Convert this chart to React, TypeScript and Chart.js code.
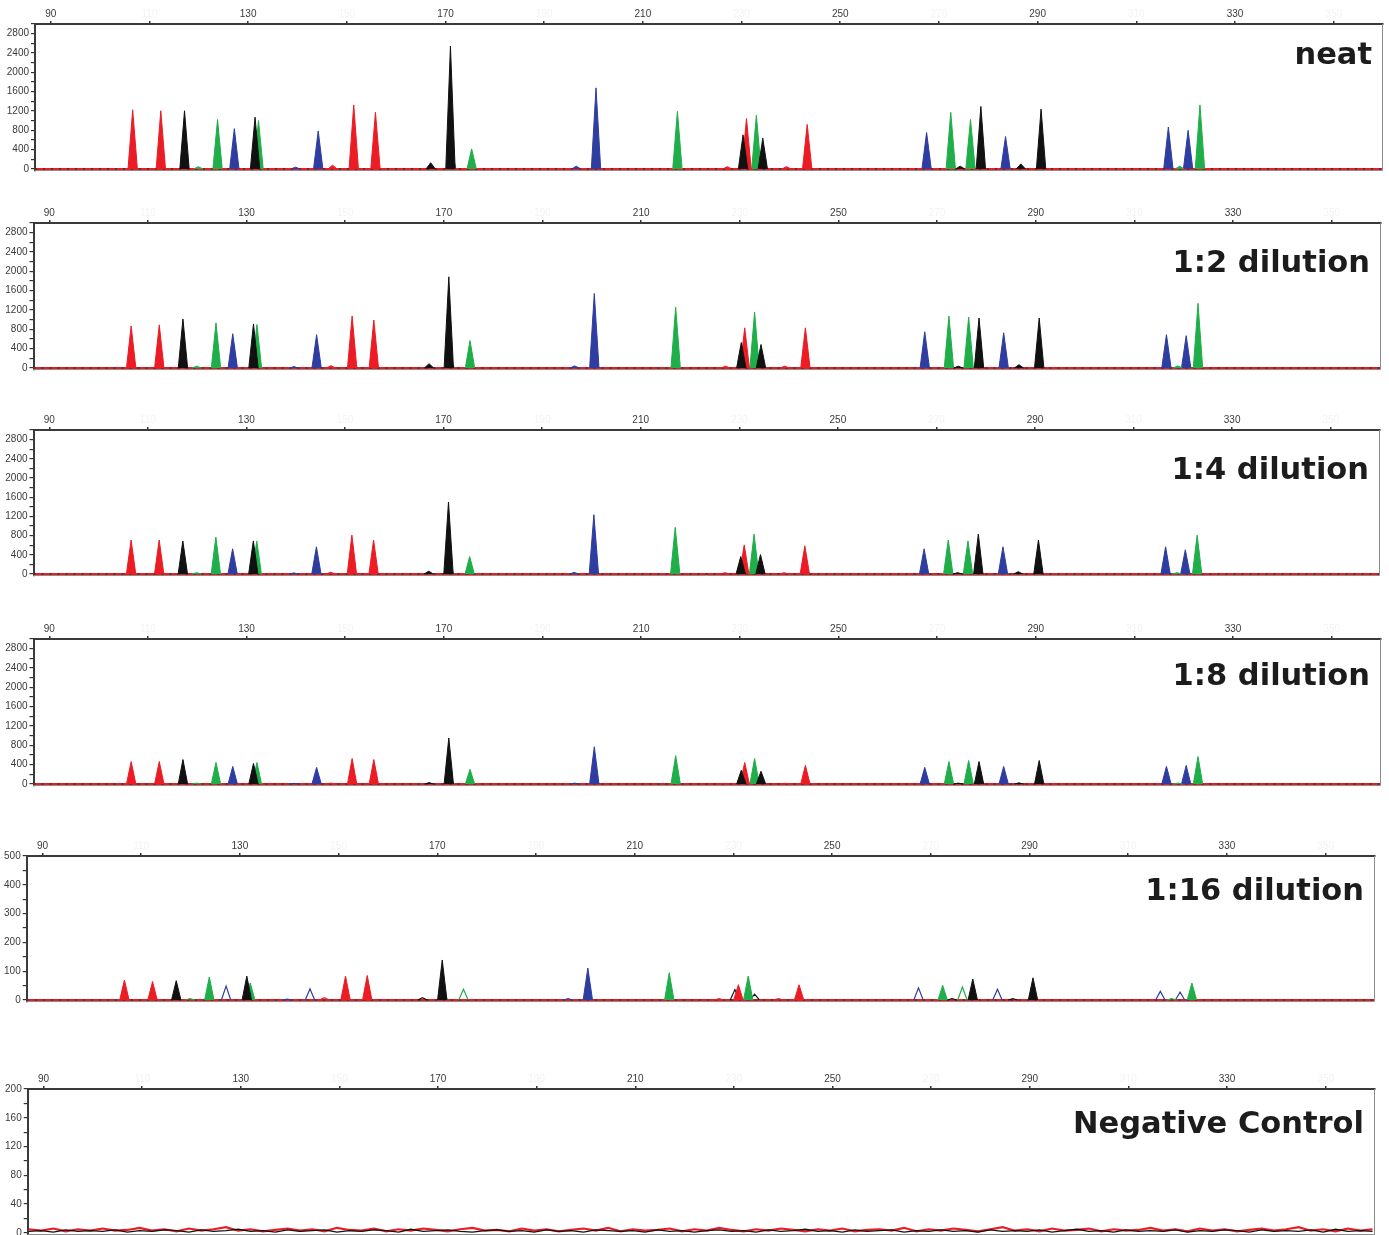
import React, { useEffect, useRef } from "react";
import { Chart, registerables } from "chart.js";
Chart.register(...registerables);

// ---------- axes ----------
const X_MIN = 86.8;
const X_MAX = 360;
const xTickValues = [90, 110, 130, 150, 170, 190, 210, 230, 250, 270, 290, 310, 330, 350];
const xLabeledTicks = [90, 130, 170, 210, 250, 290, 330];

const yTicksHigh = [0, 200, 400, 600, 800, 1000, 1200, 1400, 1600, 1800, 2000, 2200, 2400, 2600, 2800, 3000];
const yLabelsHigh = [0, 400, 800, 1200, 1600, 2000, 2400, 2800];
const yTicksMid = [0, 50, 100, 150, 200, 250, 300, 350, 400, 450, 500];
const yLabelsMid = [0, 100, 200, 300, 400, 500];
const yTicksLow = [0, 20, 40, 60, 80, 100, 120, 140, 160, 180, 200];
const yLabelsLow = [0, 40, 80, 120, 160, 200];

const panelTitles = ["neat", "1:2 dilution", "1:4 dilution", "1:8 dilution", "1:16 dilution", "Negative Control"];

// ---------- peaks (size in bp, height in RFU) ----------
const redPos = [106.6, 112.3, 147.1, 151.4, 155.8, 227.1, 231.0, 239.1, 243.3];
const redNeat = [1226, 1206, 80, 1327, 1173, 50, 1044, 50, 922];
const red1to2 = [872, 893, 50, 1075, 994, 40, 832, 40, 832];
const red1to4 = [710, 710, 40, 811, 710, 30, 608, 30, 588];
const red1to8 = [466, 466, 20, 527, 507, 15, 446, 15, 385];
const red1to16 = [69, 64, 8, 83, 85, 5, 53, 5, 53];

const blackPos = [117.1, 131.4, 167.0, 171.0, 230.3, 234.3, 274.3, 278.5, 286.6, 290.7];
const blackNeat = [1206, 1072, 130, 2541, 708, 639, 60, 1295, 107, 1240];
const black1to2 = [1014, 913, 90, 1887, 528, 487, 40, 1035, 70, 1035];
const black1to4 = [690, 690, 60, 1501, 365, 405, 30, 831, 50, 710];
const black1to8 = [507, 426, 30, 953, 284, 264, 20, 466, 25, 487];
const black1to16 = [67, 83, 8, 139, 36, 20, 5, 73, 5, 77];

const greenPos = [119.9, 123.8, 132.1, 171.2, 175.3, 217.0, 233.0, 272.4, 276.4, 318.8, 322.9];
const greenNeat = [50, 1024, 1003, 390, 417, 1194, 1113, 1173, 1024, 60, 1327];
const green1to2 = [40, 933, 900, 280, 568, 1258, 1157, 1075, 1055, 45, 1339];
const green1to4 = [30, 771, 690, 220, 365, 973, 831, 710, 690, 30, 811];
const green1to8 = [20, 446, 446, 150, 304, 588, 527, 466, 487, 20, 568];
const green1to16 = [5, 80, 59, 20, 37, 95, 83, 51, 45, 5, 59];

const bluePos = [127.2, 139.6, 144.2, 196.5, 200.5, 267.5, 283.5, 316.5, 320.5];
const blueNeat = [836, 40, 789, 60, 1679, 755, 674, 870, 801];
const blue1to2 = [710, 30, 690, 45, 1542, 751, 730, 690, 670];
const blue1to4 = [527, 25, 568, 35, 1237, 527, 568, 568, 507];
const blue1to8 = [365, 15, 345, 20, 771, 345, 365, 365, 385];
const blue1to16 = [48, 3, 39, 5, 111, 42, 37, 30, 27];

// negative control baseline noise
const negX = [87, 89.5, 92, 94.5, 97, 99.5, 102, 104.5, 107, 109.5, 112, 114.5, 117, 119.5, 122, 124.5, 127, 129.5, 132, 134.5, 137, 139.5, 142, 144.5, 147, 149.5, 152, 154.5, 157, 159.5, 162, 164.5, 167, 169.5, 172, 174.5, 177, 179.5, 182, 184.5, 187, 189.5, 192, 194.5, 197, 199.5, 202, 204.5, 207, 209.5, 212, 214.5, 217, 219.5, 222, 224.5, 227, 229.5, 232, 234.5, 237, 239.5, 242, 244.5, 247, 249.5, 252, 254.5, 257, 259.5, 262, 264.5, 267, 269.5, 272, 274.5, 277, 279.5, 282, 284.5, 287, 289.5, 292, 294.5, 297, 299.5, 302, 304.5, 307, 309.5, 312, 314.5, 317, 319.5, 322, 324.5, 327, 329.5, 332, 334.5, 337, 339.5, 342, 344.5, 347, 349.5, 352, 354.5, 357, 359.5];
const negRed = [5, 3, 6, 2, 5, 3, 6, 3, 4, 7, 3, 5, 2, 6, 3, 5, 8, 3, 5, 2, 4, 6, 3, 5, 2, 7, 4, 3, 6, 2, 5, 3, 6, 4, 2, 5, 7, 3, 4, 2, 6, 3, 5, 2, 4, 6, 3, 7, 2, 5, 3, 4, 6, 2, 5, 3, 7, 4, 2, 5, 3, 6, 4, 2, 5, 3, 6, 2, 4, 5, 3, 7, 2, 5, 3, 6, 4, 2, 5, 8, 3, 5, 2, 6, 3, 4, 6, 2, 5, 3, 4, 7, 3, 5, 2, 6, 3, 5, 2, 4, 6, 3, 5, 8, 3, 5, 2, 6, 3, 5];
const negBlack = [2, 3, 1, 4, 2, 3, 2, 4, 1, 3, 2, 4, 3, 1, 4, 2, 3, 5, 2, 3, 1, 4, 2, 3, 4, 1, 3, 2, 4, 3, 1, 5, 2, 3, 4, 2, 1, 3, 4, 2, 3, 1, 4, 2, 3, 1, 4, 3, 2, 3, 1, 4, 2, 3, 1, 3, 4, 2, 3, 1, 4, 2, 3, 5, 2, 3, 1, 4, 2, 3, 4, 1, 3, 2, 4, 2, 3, 1, 4, 2, 3, 2, 4, 1, 3, 5, 2, 3, 1, 4, 2, 3, 2, 4, 1, 3, 2, 4, 3, 1, 4, 2, 3, 2, 4, 1, 5, 2, 3, 2];

// ---------- styles ----------
const COLORS = { red: "#ec1c24", black: "#111111", green: "#1fae4a", blue: "#2e3d9f" };
const PEAK_HALF = 0.95;
const PAGE_W = 1389;
const AXIS_H = 26;

type Geo = { top: number; zeroY: number; left: number; right: number; yMax: number; yMin: number; titleOffset: number; hollowBelow: number };
const geos: Geo[] = [
  { top: 24, zeroY: 172.3, left: 35, right: 1383, yMax: 3000, yMin: -40, titleOffset: 40, hollowBelow: 0 },
  { top: 223, zeroY: 371.3, left: 33.5, right: 1381, yMax: 3000, yMin: -40, titleOffset: 48.5, hollowBelow: 0 },
  { top: 430, zeroY: 577.5, left: 33.5, right: 1380, yMax: 3000, yMin: -40, titleOffset: 48.5, hollowBelow: 0 },
  { top: 639, zeroY: 787.3, left: 33.5, right: 1381, yMax: 3000, yMin: -40, titleOffset: 46, hollowBelow: 0 },
  { top: 856, zeroY: 1003.3, left: 26.7, right: 1375, yMax: 500, yMin: -7, titleOffset: 44, hollowBelow: 50 },
  { top: 1089, zeroY: 1236.3, left: 27.7, right: 1375, yMax: 200, yMin: -3, titleOffset: 44, hollowBelow: 0 },
];

type Series = { red: number[]; black: number[]; green: number[]; blue: number[] } | null;
const panelSeries: Series[] = [
  { red: redNeat, black: blackNeat, green: greenNeat, blue: blueNeat },
  { red: red1to2, black: black1to2, green: green1to2, blue: blue1to2 },
  { red: red1to4, black: black1to4, green: green1to4, blue: blue1to4 },
  { red: red1to8, black: black1to8, green: green1to8, blue: blue1to8 },
  { red: red1to16, black: black1to16, green: green1to16, blue: blue1to16 },
  null,
];

function peakPoints(pos: number[], heights: number[], keep: (h: number) => boolean) {
  const out: { x: number; y: number | null }[] = [];
  pos.forEach((p, i) => {
    const h = heights[i];
    if (!keep(h)) return;
    out.push({ x: p - PEAK_HALF, y: 0 }, { x: p, y: h }, { x: p + PEAK_HALF, y: 0 }, { x: p + PEAK_HALF, y: null });
  });
  return out;
}

const framePlugin = {
  id: "frame",
  afterDraw(chart: any, _args: any, opts: any) {
    const { ctx, chartArea: a } = chart;
    ctx.save();
    ctx.strokeStyle = "#8c8c8c";
    ctx.lineWidth = 1;
    ctx.beginPath();
    ctx.moveTo(a.right - 0.5, a.top);
    ctx.lineTo(a.right - 0.5, a.bottom - 0.5);
    ctx.lineTo(a.left, a.bottom - 0.5);
    ctx.stroke();
    ctx.font = 'bold 30.5px "DejaVu Sans", Verdana, sans-serif';
    ctx.fillStyle = "#1c1c1c";
    ctx.textAlign = "right";
    ctx.textBaseline = "alphabetic";
    ctx.fillText(opts.text, a.right - 11, a.top + opts.offset);
    ctx.restore();
  },
};

function Panel({ index }: { index: number }) {
  const ref = useRef<HTMLCanvasElement>(null);
  const g = geos[index];
  const unit = (g.zeroY - g.top) / g.yMax;
  const plotH = g.zeroY - g.top + -g.yMin * unit;
  const canvasTop = Math.round(g.top) - AXIS_H;
  const H = Math.ceil(AXIS_H + plotH + 4);

  useEffect(() => {
    const s = panelSeries[index];
    const datasets: any[] = [];
    if (s) {
      const order: (keyof typeof COLORS)[] = ["black", "red", "green", "blue"];
      const posOf: Record<string, number[]> = { red: redPos, black: blackPos, green: greenPos, blue: bluePos };
      for (const c of order) {
        datasets.push({
          data: peakPoints(posOf[c], (s as any)[c], (h) => h >= g.hollowBelow),
          borderColor: COLORS[c],
          backgroundColor: COLORS[c],
          borderWidth: 1,
          fill: "origin",
        });
      }
      for (const c of order) {
        datasets.push({
          data: peakPoints(posOf[c], (s as any)[c], (h) => h < g.hollowBelow),
          borderColor: COLORS[c],
          borderWidth: 1.2,
          fill: false,
        });
      }
      datasets.push({
        data: [{ x: X_MIN, y: 0 }, { x: X_MAX, y: 0 }],
        borderColor: "#333333",
        borderWidth: 1.5,
        borderDash: [2, 6],
        fill: false,
      });
      datasets.push({
        data: [{ x: X_MIN, y: 0 }, { x: X_MAX, y: 0 }],
        borderColor: COLORS.red,
        borderWidth: 2,
        fill: false,
      });
    } else {
      datasets.push({
        data: negX.map((x, i) => ({ x, y: negBlack[i] })),
        borderColor: COLORS.black,
        borderWidth: 1.3,
        fill: false,
      });
      datasets.push({
        data: negX.map((x, i) => ({ x, y: negRed[i] })),
        borderColor: COLORS.red,
        borderWidth: 2.2,
        fill: false,
      });
    }
    for (const d of datasets) {
      d.pointRadius = 0;
      d.tension = 0;
      d.spanGaps = false;
    }

    const yTicks = g.yMax === 3000 ? yTicksHigh : g.yMax === 500 ? yTicksMid : yTicksLow;
    const yLabels = g.yMax === 3000 ? yLabelsHigh : g.yMax === 500 ? yLabelsMid : yLabelsLow;
    const tickFont = { family: '"Liberation Sans", Arial, sans-serif', size: 10 };

    const chart = new Chart(ref.current!, {
      type: "line",
      data: { datasets },
      plugins: [framePlugin as any],
      options: {
        animation: false,
        responsive: false,
        maintainAspectRatio: false,
        events: [],
        layout: { padding: { left: 0, top: 0, right: PAGE_W - g.right, bottom: H - AXIS_H - plotH } },
        plugins: {
          legend: { display: false },
          tooltip: { enabled: false },
          frame: { text: panelTitles[index], offset: g.titleOffset },
        } as any,
        scales: {
          x: {
            type: "linear",
            position: "top",
            min: X_MIN,
            max: X_MAX,
            afterBuildTicks: (axis: any) => {
              axis.ticks = xTickValues.map((v) => ({ value: v }));
            },
            afterFit: (scale: any) => {
              scale.height = AXIS_H;
            },
            ticks: {
              autoSkip: false,
              maxRotation: 0,
              padding: 1,
              font: tickFont,
              color: (c: any) => (xLabeledTicks.includes(c.tick.value) ? "#3a3a3a" : "#f3f3f3"),
              callback: (v: any) => String(v),
            },
            grid: { drawOnChartArea: false, drawTicks: true, tickLength: 3, color: "#333333", lineWidth: 1.5 },
            border: { display: true, color: "#3a3a3a", width: 2 },
          },
          y: {
            type: "linear",
            min: g.yMin,
            max: g.yMax,
            afterBuildTicks: (axis: any) => {
              axis.ticks = yTicks.map((v) => ({ value: v }));
            },
            afterFit: (scale: any) => {
              scale.width = g.left;
            },
            ticks: {
              autoSkip: false,
              padding: 2,
              font: tickFont,
              color: "#3a3a3a",
              callback: (v: any) => (yLabels.includes(v) ? String(v) : ""),
            },
            grid: { drawOnChartArea: false, drawTicks: true, tickLength: 4, color: "#333333", lineWidth: 1.2 },
            border: { display: true, color: "#3a3a3a", width: 2 },
          },
        },
      },
    });
    return () => chart.destroy();
  }, [index]);

  return (
    <canvas
      ref={ref}
      width={PAGE_W}
      height={H}
      style={{ position: "absolute", left: 0, top: canvasTop, width: PAGE_W, height: H, display: "block" }}
    />
  );
}

export default function App() {
  return (
    <div
      style={{
        position: "absolute",
        left: 0,
        top: 0,
        width: PAGE_W,
        height: 1235,
        overflow: "hidden",
        background: "#ffffff",
      }}
    >
      {geos.map((_, i) => (
        <Panel key={i} index={i} />
      ))}
    </div>
  );
}
